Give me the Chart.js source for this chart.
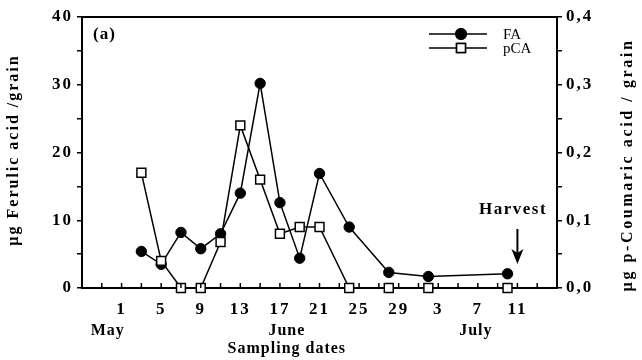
<!DOCTYPE html>
<html>
<head>
<meta charset="utf-8">
<script src="https://cdn.jsdelivr.net/npm/chart.js@4"></script>
<style>
  html, body { margin: 0; padding: 0; background: #fff; }
  #wrap { width: 642px; height: 360px; }
</style>
</head>
<body>
<div id="wrap"><canvas id="myChart" width="642" height="360"></canvas></div>
<script>
// sampling days counted from 1 June (33 = 3 July)
var faDays = [3, 5, 7, 9, 11, 13, 15, 17, 19, 21, 24, 28, 32, 40];
var faValues = [5.4, 3.5, 8.2, 5.8, 8.0, 14.0, 30.2, 12.6, 4.4, 16.9, 9.0, 2.3, 1.7, 2.1];
var pcaDays = [3, 5, 7, 9, 11, 13, 15, 17, 19, 21, 24, 28, 32, 40];
var pcaValues = [0.17, 0.04, 0, 0, 0.068, 0.24, 0.16, 0.08, 0.09, 0.09, 0, 0, 0, 0];

var xTickDays = [1, 5, 9, 13, 17, 21, 25, 29, 33, 37, 41];
var xTickLabels = ['1', '5', '9', '13', '17', '21', '25', '29', '3', '7', '11'];
var monthNames = ['May', 'June', 'July'];
var harvestDay = 41;

var SERIF = "'Liberation Serif', 'Times New Roman', serif";
Chart.defaults.font.family = SERIF;
Chart.defaults.color = '#000';

function points(days, vals) {
  return days.map(function(d, i) { return {x: d, y: vals[i]}; });
}

var decor = {
  id: 'decor',
  beforeDraw: function(chart) {
    chart.ctx.letterSpacing = '2px';
  },
  afterDraw: function(chart) {
    var ctx = chart.ctx;
    var a = chart.chartArea;
    var x = chart.scales.x;
    ctx.save();
    ctx.strokeStyle = '#000';
    ctx.fillStyle = '#000';

    // top frame
    ctx.lineWidth = 2;
    ctx.beginPath();
    ctx.moveTo(a.left - 1, a.top);
    ctx.lineTo(a.right + 1, a.top);
    ctx.stroke();

    // x ticks pointing inward
    ctx.lineWidth = 1.5;
    x.ticks.forEach(function(t) {
      var px = x.getPixelForValue(t.value);
      ctx.beginPath();
      ctx.moveTo(px, a.bottom);
      ctx.lineTo(px, a.bottom - 5);
      ctx.stroke();
    });

    ctx.letterSpacing = '1px';
    ctx.font = 'bold 17px ' + SERIF;
    ctx.textAlign = 'left';
    ctx.textBaseline = 'middle';
    ctx.fillText('(a)', 93, 35);

    // legend
    ctx.font = '15px ' + SERIF;
    ctx.letterSpacing = '0px';
    var rows = [[chart.data.datasets[1], 34], [chart.data.datasets[0], 48]];
    rows.forEach(function(r) {
      var ds = r[0], y = r[1];
      ctx.lineWidth = 1.5;
      ctx.beginPath();
      ctx.moveTo(429, y);
      ctx.lineTo(487, y);
      ctx.stroke();
      Chart.helpers.drawPoint(ctx, {
        pointStyle: ds.pointStyle, radius: ds.pointRadius, borderWidth: 1.5
      }, 461, y);
      ctx.fillStyle = ds.pointBackgroundColor;
      ctx.fill();
      ctx.stroke();
      ctx.fillStyle = '#000';
      ctx.fillText(ds.label, 503, y + 1);
    });

    // harvest arrow
    var hx = x.getPixelForValue(harvestDay);
    ctx.letterSpacing = '1.5px';
    ctx.font = 'bold 17px ' + SERIF;
    ctx.textAlign = 'center';
    ctx.fillText('Harvest', 513, 210);
    ctx.lineWidth = 2;
    ctx.beginPath();
    ctx.moveTo(hx, 229);
    ctx.lineTo(hx, 255);
    ctx.stroke();
    ctx.beginPath();
    ctx.moveTo(hx - 6, 249);
    ctx.lineTo(hx, 264);
    ctx.lineTo(hx + 6, 249);
    ctx.lineTo(hx, 253);
    ctx.closePath();
    ctx.fill();

    // months and x title
    ctx.font = 'bold 16px ' + SERIF;
    ctx.letterSpacing = '1px';
    var monthAt = [-0.4, 17.7, 36.8];
    monthNames.forEach(function(m, i) {
      ctx.fillText(m, x.getPixelForValue(monthAt[i]), 331);
    });
    ctx.fillText('Sampling dates', x.getPixelForValue(17.7), 349);

    // axis titles, both reading upward
    ctx.letterSpacing = '2px';
    ctx.save();
    ctx.translate(14, 150);
    ctx.rotate(-Math.PI / 2);
    ctx.fillText('\u00b5g Ferulic acid /grain', 0, 0);
    ctx.restore();
    ctx.letterSpacing = '2.6px';
    ctx.save();
    ctx.translate(628, 165);
    ctx.rotate(-Math.PI / 2);
    ctx.fillText('\u00b5g p-Coumaric acid / grain', 0, 0);
    ctx.restore();

    ctx.restore();
  }
};

var tickFont = {size: 17, weight: 'bold', family: SERIF};

var chart = new Chart(document.getElementById('myChart').getContext('2d'), {
  type: 'line',
  data: {
    datasets: [{
      label: 'pCA',
      data: points(pcaDays, pcaValues),
      yAxisID: 'y2',
      borderColor: '#000',
      borderWidth: 1.5,
      pointStyle: 'rect',
      pointRadius: 6.3,
      pointBackgroundColor: '#fff',
      pointBorderColor: '#000',
      pointBorderWidth: 1.5,
      tension: 0,
      clip: false,
      order: 1
    }, {
      label: 'FA',
      data: points(faDays, faValues),
      yAxisID: 'y',
      borderColor: '#000',
      borderWidth: 1.5,
      pointStyle: 'circle',
      pointRadius: 5.2,
      pointBackgroundColor: '#000',
      pointBorderColor: '#000',
      pointBorderWidth: 1,
      tension: 0,
      clip: false,
      order: 2
    }]
  },
  options: {
    responsive: false,
    animation: false,
    events: [],
    layout: {padding: {top: 17, left: 0, right: 0, bottom: 0}},
    plugins: {legend: {display: false}, tooltip: {enabled: false}},
    scales: {
      x: {
        type: 'linear',
        min: -3,
        max: 45,
        afterBuildTicks: function(s) {
          var t = [];
          for (var d = -1; d <= 43; d += 2) t.push({value: d});
          s.ticks = t;
        },
        afterFit: function(s) { s.height = 72; },
        border: {color: '#000', width: 2},
        grid: {drawOnChartArea: false, drawTicks: false},
        ticks: {
          autoSkip: false,
          maxRotation: 0,
          padding: 11,
          font: tickFont,
          callback: function(v) {
            var i = xTickDays.indexOf(v);
            return i < 0 ? '' : xTickLabels[i];
          }
        }
      },
      y: {
        position: 'left',
        min: 0,
        max: 40,
        afterFit: function(s) { s.width = 82; },
        border: {color: '#000', width: 2},
        grid: {drawOnChartArea: false, drawTicks: true, tickLength: 5, color: '#000', lineWidth: 1.5},
        ticks: {
          stepSize: 5,
          padding: 4,
          font: tickFont,
          callback: function(v) { return v % 10 === 0 ? String(v) : ''; }
        }
      },
      y2: {
        position: 'right',
        min: 0,
        max: 0.4,
        afterFit: function(s) { s.width = 85; },
        border: {color: '#000', width: 2},
        grid: {drawOnChartArea: false, drawTicks: true, tickLength: 5, color: '#000', lineWidth: 1.5},
        ticks: {
          stepSize: 0.05,
          padding: 4,
          font: tickFont,
          callback: function(v) {
            var k = Math.round(v * 20);
            return k % 2 === 0 ? (k / 20).toFixed(1).replace('.', ',') : '';
          }
        }
      }
    }
  },
  plugins: [decor]
});
</script>
</body>
</html>
